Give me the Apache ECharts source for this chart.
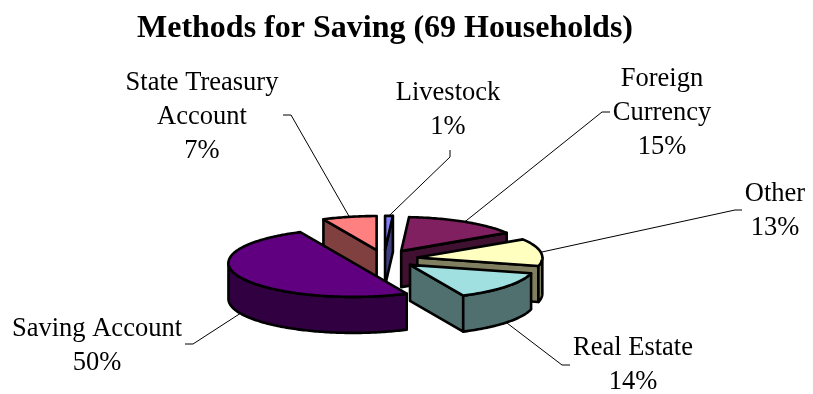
<!DOCTYPE html>
<html>
<head>
<meta charset="utf-8">
<style>html,body{margin:0;padding:0;background:#fff}#chart{width:813px;height:394px}</style>
<script src="https://cdn.jsdelivr.net/npm/echarts@6/dist/echarts.min.js"></script>
</head>
<body>
<div id="chart"></div>
<script>
// Household saving methods, in pie order starting at twelve o'clock, clockwise.
const categories = ['Livestock', 'Foreign Currency', 'Other', 'Real Estate', 'Saving Account', 'State Treasury Account'];
const shares = [1, 15, 13, 14, 50, 7];
const chartTitle = 'Methods for Saving (69 Households)';

// Appearance of each slice, same order as above.
const topColors = ['#8080ff', '#802060', '#ffffc0', '#a0e0e0', '#600080', '#ff8080'];
const sideColors = ['#404080', '#401030', '#808060', '#507070', '#300040', '#804040'];

// Back-to-front painting order of the slices.
const paintOrder = [5, 0, 1, 2, 4, 3];

// Tilted-disc projection.
const disc = { cx: 384, cy: 259, rx: 125, ry: 34, depth: 36, explode: 0.27 };

// Label anchors: text centre, first row, elbow end points of each leader.
const labelLines = [['Livestock'], ['Foreign', 'Currency'], ['Other'], ['Real Estate'], ['Saving Account'], ['State Treasury', 'Account']];
const labelBoxes = [
  { x: 448, y: 93, elbow: [[450, 157], [450, 150]], onWall: false },
  { x: 662, y: 79, elbow: [[602, 112], [610, 112]], onWall: false },
  { x: 775, y: 194, elbow: [[735, 210], [742, 210]], onWall: false },
  { x: 633, y: 348, elbow: [[562, 365], [570, 365]], onWall: true },
  { x: 97, y: 329, elbow: [[193, 344], [185, 344]], onWall: true },
  { x: 202, y: 83, elbow: [[291, 115], [283, 115]], onWall: false }
];
const lineHeight = 34;

const total = shares.reduce((a, b) => a + b, 0);
let running = 0;
const rows = shares.map((v, i) => {
  const start = running / total * 360;
  running += v;
  return [i, start, running / total * 360, v];
});
const seriesData = paintOrder.map(i => rows[i]);

const rad = d => d * Math.PI / 180;

function renderSlice(params, api) {
  const idx = api.value(0), a0 = api.value(1), a1 = api.value(2), val = api.value(3);
  const mid = (a0 + a1) / 2;
  const ox = disc.cx + disc.explode * disc.rx * Math.sin(rad(mid));
  const oy = disc.cy - disc.explode * disc.ry * Math.cos(rad(mid));
  const rim = t => [ox + disc.rx * Math.sin(rad(t)), oy - disc.ry * Math.cos(rad(t))];
  const down = p => [p[0], p[1] + disc.depth];
  const apex = [ox, oy];
  const arc = (from, to) => {
    const pts = [];
    const n = Math.max(2, Math.ceil(to - from));
    for (let k = 0; k <= n; k++) pts.push(rim(from + (to - from) * k / n));
    return pts;
  };
  const children = [];
  const face = (points, fill) => children.push({
    type: 'polygon',
    shape: { points },
    style: { fill, stroke: '#000', lineWidth: 2.6, lineJoin: 'round' }
  });
  const side = sideColors[idx];

  // Leader line and label sit underneath the slice.
  const box = labelBoxes[idx];
  const anchor = rim(mid);
  const tip = box.onWall ? down(anchor) : anchor;
  children.push({
    type: 'polyline',
    shape: { points: [tip, box.elbow[0], box.elbow[1]] },
    style: { fill: null, stroke: '#000', lineWidth: 1 }
  });
  labelLines[idx].concat([val + '%']).forEach((line, r) => children.push({
    type: 'text',
    style: {
      text: line, x: box.x, y: box.y + r * lineHeight,
      align: 'center', verticalAlign: 'middle',
      fontFamily: '"Liberation Serif"', fontSize: 26.5, fill: '#000'
    }
  }));

  // Radial cut faces that turn towards the viewer.
  if (Math.sin(rad(a0)) < -1e-6) {
    const p = rim(a0);
    face([apex, p, down(p), down(apex)], side);
  }
  if (Math.sin(rad(a1)) > 1e-6) {
    const p = rim(a1);
    face([apex, p, down(p), down(apex)], side);
  }
  // Outer wall, only along the near half of the rim.
  const w0 = Math.max(a0, 90), w1 = Math.min(a1, 270);
  if (w1 > w0) {
    const top = arc(w0, w1);
    face(top.concat(top.slice().reverse().map(down)), side);
  }
  // Top surface.
  face([apex].concat(arc(a0, a1)), topColors[idx]);
  return { type: 'group', children };
}

const chart = echarts.init(document.getElementById('chart'), null, { renderer: 'canvas' });
chart.setOption({
  animation: false,
  backgroundColor: '#fff',
  title: {
    text: chartTitle,
    left: 380, top: 8,
    textAlign: 'center',
    textStyle: { fontFamily: '"Liberation Serif"', fontWeight: 'bold', fontSize: 32, color: '#000' }
  },
  series: [{
    type: 'custom',
    coordinateSystem: 'none',
    renderItem: renderSlice,
    data: seriesData
  }]
});
</script>
</body>
</html>
